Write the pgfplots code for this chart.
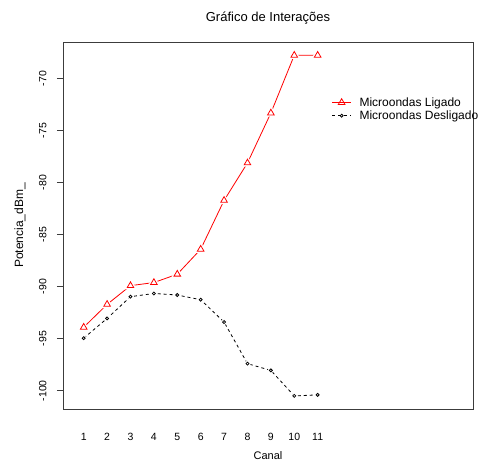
\documentclass[border=0pt]{standalone}
\usepackage{fontspec}
\setmainfont{Liberation Sans}
\usepackage{pgfplots}
\pgfplotsset{compat=1.18}
\definecolor{boxgray}{RGB}{60,60,60}

\begin{document}
\begin{tikzpicture}
\path[use as bounding box] (-63pt,-53pt) rectangle (418pt,409pt);
\begin{axis}[
  scale only axis,
  width=410pt, height=367pt,
  at={(0,0)}, anchor=south west,
  xmin=0.115, xmax=17.64,
  ymin=-101.76, ymax=-66.47,
  axis line style={boxgray, line width=0.9pt},
  xtick={1,2,...,11},
  xtick style={draw=none},
  ytick={-100,-95,...,-70},
  ytick pos=left,
  tick align=outside,
  major tick length=6pt,
  ytick style={boxgray, line width=0.8pt},
  /pgf/number format/assume math mode=true,
  tick label style={font=\fontsize{10.5}{12}\selectfont},
  xticklabel style={anchor=center, yshift=-22pt},
  yticklabel style={rotate=90, anchor=south},
  yticklabel shift=7pt,
  xlabel={Canal},
  ylabel={Potencia\_dBm\_},
  xlabel style={font=\fontsize{11}{13}\selectfont, at={(axis description cs:0.5,0)}, anchor=center, yshift=-47pt},
  ylabel style={font=\fontsize{12}{14}\selectfont, at={(axis description cs:-0.105,0.5)}, anchor=center},
  legend style={draw=none, fill=none, at={(0.655,0.855)}, anchor=north west,
    font=\fontsize{12}{14}\selectfont, inner sep=0pt, row sep=-1pt},
  legend cell align=left,
  legend image code/.code={
    \draw[mark repeat=2, mark phase=2, #1] plot coordinates {(0pt,0pt)(9.5pt,0pt)(19pt,0pt)};
    \path (25pt,0pt);
  },
  clip=false,
]
\addplot[red, line width=0.8pt, mark=triangle, mark size=3.8pt, mark options={solid, fill=white}]
  coordinates {(1,-93.9)(2,-91.7)(3,-89.9)(4,-89.6)(5,-88.8)(6,-86.4)(7,-81.7)(8,-78.1)(9,-73.3)(10,-67.75)(11,-67.75)};
\addlegendentry{Microondas Ligado}
\addplot[black, line width=0.8pt, dash pattern=on 3pt off 3pt, mark=o, mark size=1.5pt, mark options={solid, fill=white}]
  coordinates {(1,-94.95)(2,-93.05)(3,-90.96)(4,-90.65)(5,-90.8)(6,-91.25)(7,-93.4)(8,-97.4)(9,-98.05)(10,-100.5)(11,-100.4)};
\addlegendentry{Microondas Desligado}
% white halos so the lines stop short of the points
\addplot[only marks, forget plot, white, mark=triangle*, mark size=3.8pt, mark options={draw=white, fill=white, line width=3.5pt}]
  coordinates {(1,-93.9)(2,-91.7)(3,-89.9)(4,-89.6)(5,-88.8)(6,-86.4)(7,-81.7)(8,-78.1)(9,-73.3)(10,-67.75)(11,-67.75)};
\addplot[only marks, forget plot, white, mark=*, mark size=1.5pt, mark options={draw=white, fill=white, line width=3pt}]
  coordinates {(1,-94.95)(2,-93.05)(3,-90.96)(4,-90.65)(5,-90.8)(6,-91.25)(7,-93.4)(8,-97.4)(9,-98.05)(10,-100.5)(11,-100.4)};
\addplot[only marks, forget plot, red, mark=triangle, mark size=3.8pt, mark options={line width=0.8pt, fill=white}]
  coordinates {(1,-93.9)(2,-91.7)(3,-89.9)(4,-89.6)(5,-88.8)(6,-86.4)(7,-81.7)(8,-78.1)(9,-73.3)(10,-67.75)(11,-67.75)};
\addplot[only marks, forget plot, black, mark=o, mark size=1.5pt, mark options={line width=0.8pt, fill=white}]
  coordinates {(1,-94.95)(2,-93.05)(3,-90.96)(4,-90.65)(5,-90.8)(6,-91.25)(7,-93.4)(8,-97.4)(9,-98.05)(10,-100.5)(11,-100.4)};
\node[font=\fontsize{13}{15}\selectfont] at (rel axis cs:0.5,1) [yshift=24pt] {Gráfico de Interações};
\end{axis}
\end{tikzpicture}
\end{document}
